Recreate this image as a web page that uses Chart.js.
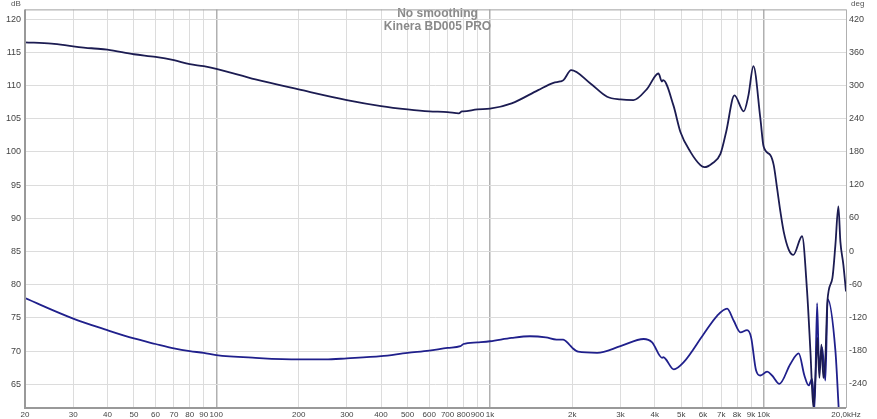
<!DOCTYPE html>
<html>
<head>
<meta charset="utf-8">
<script src="https://cdn.jsdelivr.net/npm/chart.js@4"></script>
<style>
  body { margin: 0; background: #fff; }
  #wrap { width: 877px; height: 419px; position: relative; }
</style>
</head>
<body>
<div id="wrap"><canvas id="fr"></canvas></div>
<script>
// frequency response (dB)
const splFreq = [20, 25, 30, 35, 40, 50, 60, 70, 80, 90, 100, 139, 200, 300, 400, 500, 600, 700, 770, 790, 800, 900, 1000, 1200, 1500, 1706, 1809, 1856, 1980, 2329, 2680, 2998, 3344, 3752, 4127, 4250, 4293, 4682, 4966, 5402, 5875, 6076, 6501, 6954, 7295, 7824, 8459, 8800, 9177, 9732, 10000, 10588, 10887, 11202, 11516, 11840, 12350, 12847, 13821, 14415, 14825, 15201, 15460, 15722, 15988, 16260, 16535, 16815, 17100, 17836, 18293, 18758, 19076, 19565, 20000];
const splDb = [116.5, 116.3, 115.9, 115.6, 115.4, 114.7, 114.3, 113.8, 113.2, 112.9, 112.5, 110.9, 109.4, 107.8, 106.9, 106.4, 106.1, 106.0, 105.8, 106.1, 106.1, 106.4, 106.5, 107.3, 109.3, 110.4, 110.6, 110.8, 112.3, 110.3, 108.3, 107.9, 107.8, 109.5, 111.8, 110.6, 110.8, 107.0, 103.0, 100.0, 98.0, 97.7, 98.3, 99.7, 103.0, 108.5, 106.1, 108.5, 112.9, 105.0, 100.8, 99.5, 98.0, 94.5, 91.0, 88.0, 85.3, 84.5, 87.3, 79.0, 70.0, 61.5, 66.0, 72.0, 66.0, 71.0, 66.0, 69.0, 77.5, 81.0, 86.0, 91.8, 86.5, 83.0, 79.0];

// phase (deg)
const phaseFreq = [20, 30, 40, 50, 60, 70, 80, 90, 100, 139, 200, 250, 300, 400, 500, 600, 700, 780, 800, 900, 1000, 1200, 1400, 1600, 1750, 1850, 1950, 2000, 2100, 2464, 2998, 3647, 3914, 4257, 4300, 4700, 5105, 6041, 6761, 7357, 7777, 8228, 8702, 9000, 9387, 9732, 10297, 10740, 11420, 12525, 13432, 14093, 14612, 15035, 15368, 15683, 15949, 16358, 16815, 17143, 18293, 18806];
const phaseDeg = [-85, -122, -143, -158, -168, -176, -181, -184, -188, -193, -196, -196, -194, -190, -184, -180, -175, -172, -168, -165, -163, -157, -154, -156, -160, -160, -169, -175, -182, -184, -172, -159, -165, -193, -192, -214, -201, -150, -117, -104, -126, -147, -143, -156, -216, -225, -218, -225, -240, -204, -185, -225, -243, -231, -282, -94, -210, -174, -234, -87, -180, -284];

const freqTicks = [20, 30, 40, 50, 60, 70, 80, 90, 100, 200, 300, 400, 500, 600, 700, 800, 900, 1000, 2000, 3000, 4000, 5000, 6000, 7000, 8000, 9000, 10000, 20000];
const freqLabels = ['20', '30', '40', '50', '60', '70', '80', '90', '100', '200', '300', '400', '500', '600', '700', '800', '900', '1k', '2k', '3k', '4k', '5k', '6k', '7k', '8k', '9k', '10k', '20,0kHz'];
const dbTicks = [65, 70, 75, 80, 85, 90, 95, 100, 105, 110, 115, 120];
const degTicks = [-240, -180, -120, -60, 0, 60, 120, 180, 240, 300, 360, 420];

const titleLines = ['No smoothing', 'Kinera BD005 PRO'];

const tickFont = { family: '"Liberation Sans"', size: 9 };
const xTickFont = { family: '"Liberation Sans"', size: 8 };

const extraText = {
    id: 'extraText',
    afterDraw(chart) {
        const c = chart.ctx;
        const area = chart.chartArea;
        c.save();
        c.fillStyle = '#555';
        c.font = '8px "Liberation Sans"';
        c.textBaseline = 'middle';
        c.textAlign = 'left';
        c.fillText('dB', 11, 4);
        c.fillText('deg', 851, 4);
        c.fillStyle = '#8a8a8a';
        c.font = 'bold 12px "Liberation Sans"';
        c.textAlign = 'center';
        const cx = (area.left + area.right) / 2 + 2;
        c.fillText(titleLines[0], cx, 14);
        c.fillText(titleLines[1], cx, 27);
        // frame
        c.strokeStyle = '#a0a0a0';
        c.lineWidth = 1;
        c.beginPath();
        c.moveTo(area.left, area.top + 0.5);
        c.lineTo(area.right, area.top + 0.5);
        c.stroke();
        c.strokeStyle = '#999';
        c.lineWidth = 2;
        c.beginPath();
        c.moveTo(area.left, area.top);
        c.lineTo(area.left, area.bottom);
        c.lineTo(area.right, area.bottom);
        c.stroke();
        c.restore();
    }
};

const bgWhite = {
    id: 'bgWhite',
    beforeDraw(chart) {
        const c = chart.ctx;
        c.save();
        c.fillStyle = '#fff';
        c.fillRect(0, 0, chart.width, chart.height);
        c.restore();
    }
};

new Chart(document.getElementById('fr'), {
    type: 'line',
    data: {
        datasets: [
            {
                label: 'SPL',
                data: splFreq.map((f, i) => ({ x: f, y: splDb[i] })),
                borderColor: '#1c1c52',
                borderWidth: 1.8,
                pointRadius: 0,
                cubicInterpolationMode: 'monotone',
                yAxisID: 'y'
            },
            {
                label: 'Phase',
                data: phaseFreq.map((f, i) => ({ x: f, y: phaseDeg[i] })),
                borderColor: '#20208c',
                borderWidth: 1.8,
                pointRadius: 0,
                cubicInterpolationMode: 'monotone',
                yAxisID: 'y2'
            }
        ]
    },
    options: {
        responsive: true,
        maintainAspectRatio: false,
        animation: false,
        layout: { padding: { top: 7, left: 0, right: 0, bottom: 0 } },
        plugins: {
            legend: { display: false },
            tooltip: { enabled: false }
        },
        scales: {
            x: {
                type: 'logarithmic',
                min: 20,
                max: 20000,
                afterBuildTicks: s => { s.ticks = freqTicks.map(v => ({ value: v })); },
                afterFit: s => { s.height = 11; },
                border: { display: false },
                grid: {
                    drawTicks: false,
                    color: ctx => [100, 1000, 10000, 20000].includes(ctx.tick && ctx.tick.value) ? '#b0b0b0' : '#dcdcdc',
                    lineWidth: ctx => [100, 1000, 10000].includes(ctx.tick && ctx.tick.value) ? 1.5 : 1
                },
                ticks: {
                    autoSkip: false,
                    maxRotation: 0,
                    padding: 2,
                    color: '#444',
                    font: xTickFont,
                    callback: v => {
                        const i = freqTicks.indexOf(v);
                        return i >= 0 ? freqLabels[i] : '';
                    }
                }
            },
            y: {
                position: 'left',
                min: 61.45,
                max: 121.45,
                afterBuildTicks: s => { s.ticks = dbTicks.map(v => ({ value: v })); },
                afterFit: s => { s.width = 25; },
                border: { display: false },
                grid: { drawTicks: false, color: '#dcdcdc' },
                ticks: { padding: 4, color: '#444', font: tickFont }
            },
            y2: {
                position: 'right',
                min: -283.8,
                max: 437.4,
                afterBuildTicks: s => { s.ticks = degTicks.map(v => ({ value: v })); },
                afterFit: s => { s.width = 31; },
                border: { display: false },
                grid: { drawTicks: false, drawOnChartArea: false },
                ticks: { padding: 3, color: '#444', font: tickFont }
            }
        }
    },
    plugins: [bgWhite, extraText]
});
</script>
</body>
</html>
